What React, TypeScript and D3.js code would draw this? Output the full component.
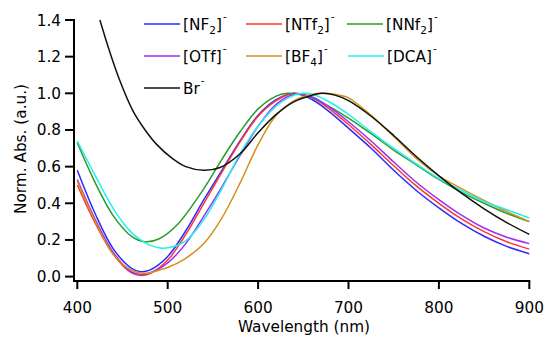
import React from "react";
import * as d3 from "d3";

const xTicks = [400, 500, 600, 700, 800, 900];
const yTicks = [0, 0.2, 0.4, 0.6, 0.8, 1.0, 1.2, 1.4];

const nf2X = [400, 420, 440, 460, 470, 480, 500, 520, 540, 560, 580, 600, 620, 640, 660, 680, 700, 725, 750, 775, 800, 825, 850, 875, 900];
const nf2Y = [0.58, 0.34, 0.15, 0.045, 0.027, 0.035, 0.11, 0.25, 0.42, 0.58, 0.74, 0.88, 0.965, 1.0, 0.965, 0.895, 0.81, 0.70, 0.58, 0.47, 0.375, 0.29, 0.22, 0.165, 0.125];

const ntf2X = [400, 420, 440, 460, 470, 480, 500, 520, 540, 560, 580, 600, 620, 640, 660, 680, 700, 725, 750, 775, 800, 825, 850, 875, 900];
const ntf2Y = [0.50, 0.29, 0.12, 0.02, 0.006, 0.015, 0.09, 0.23, 0.40, 0.57, 0.735, 0.875, 0.96, 1.0, 0.975, 0.91, 0.83, 0.72, 0.605, 0.495, 0.40, 0.315, 0.245, 0.19, 0.15];

const nnf2X = [400, 420, 440, 460, 475, 490, 510, 540, 560, 580, 600, 620, 632, 645, 660, 680, 700, 725, 750, 775, 800, 825, 850, 875, 900];
const nnf2Y = [0.73, 0.51, 0.33, 0.22, 0.19, 0.205, 0.28, 0.48, 0.64, 0.79, 0.915, 0.985, 1.0, 0.995, 0.975, 0.925, 0.865, 0.78, 0.69, 0.61, 0.53, 0.46, 0.40, 0.345, 0.30];

const otfX = [400, 420, 440, 460, 470, 480, 500, 520, 540, 560, 580, 600, 620, 640, 660, 680, 700, 725, 750, 775, 800, 825, 850, 875, 900];
const otfY = [0.53, 0.31, 0.13, 0.025, 0.012, 0.02, 0.075, 0.18, 0.33, 0.49, 0.66, 0.82, 0.94, 0.995, 0.98, 0.92, 0.845, 0.74, 0.625, 0.515, 0.42, 0.335, 0.265, 0.215, 0.18];

const bf4X = [400, 420, 440, 460, 477, 490, 500, 520, 540, 560, 580, 600, 620, 640, 660, 675, 690, 700, 725, 750, 775, 800, 825, 850, 875, 900];
const bf4Y = [0.52, 0.30, 0.12, 0.035, 0.018, 0.035, 0.05, 0.10, 0.18, 0.32, 0.51, 0.72, 0.88, 0.96, 0.995, 1.0, 0.99, 0.975, 0.88, 0.765, 0.645, 0.55, 0.48, 0.415, 0.355, 0.30];

const dcaX = [400, 420, 440, 460, 470, 480, 495, 510, 520, 540, 560, 580, 600, 620, 640, 650, 660, 680, 700, 725, 750, 775, 800, 825, 850, 875, 900];
const dcaY = [0.74, 0.55, 0.37, 0.24, 0.20, 0.172, 0.155, 0.17, 0.195, 0.31, 0.48, 0.67, 0.82, 0.93, 0.99, 1.0, 0.995, 0.95, 0.885, 0.79, 0.70, 0.615, 0.535, 0.47, 0.41, 0.365, 0.32];

const brX = [425, 435, 447, 462, 475, 488, 505, 520, 540, 558, 580, 600, 620, 640, 660, 670, 685, 700, 725, 750, 775, 800, 825, 850, 875, 900];
const brY = [1.40, 1.24, 1.07, 0.90, 0.80, 0.72, 0.645, 0.60, 0.58, 0.595, 0.67, 0.785, 0.885, 0.955, 0.99, 1.0, 0.99, 0.96, 0.875, 0.77, 0.655, 0.55, 0.455, 0.37, 0.295, 0.23];

type Part = { t: string; k?: "sub" | "sup" };
const seriesNames: Part[][] = [
  [{ t: "[NF" }, { t: "2", k: "sub" }, { t: "]" }, { t: "-", k: "sup" }],
  [{ t: "[NTf" }, { t: "2", k: "sub" }, { t: "]" }, { t: "-", k: "sup" }],
  [{ t: "[NNf" }, { t: "2", k: "sub" }, { t: "]" }, { t: "-", k: "sup" }],
  [{ t: "[OTf]" }, { t: "-", k: "sup" }],
  [{ t: "[BF" }, { t: "4", k: "sub" }, { t: "]" }, { t: "-", k: "sup" }],
  [{ t: "[DCA]" }, { t: "-", k: "sup" }],
  [{ t: "Br" }, { t: "-", k: "sup" }],
];
const seriesColors = ["#2b2bff", "#ff3535", "#2a9a2a", "#9b30f0", "#d4901c", "#22f0f0", "#111111"];
const seriesXs = [nf2X, ntf2X, nnf2X, otfX, bf4X, dcaX, brX];
const seriesYs = [nf2Y, ntf2Y, nnf2Y, otfY, bf4Y, dcaY, brY];

const legendPos = [
  [144, 24], [246, 24], [347, 24],
  [144, 56], [246, 56], [348, 56],
  [144, 88],
];

export default function App() {
  const x = d3.scaleLinear().domain([400, 900]).range([77.3, 529.3]);
  const y = d3.scaleLinear().domain([0, 1.4]).range([276.6, 20]);
  const line = d3
    .line<[number, number]>()
    .x((d) => x(d[0]))
    .y((d) => y(d[1]))
    .curve(d3.curveCatmullRom.alpha(0.5));
  const font = "DejaVu Sans, Verdana, sans-serif";
  const fs = 15.3;
  const axisY = 281;
  const axisX = 74;

  return (
    <svg
      width={547}
      height={337}
      style={{ position: "absolute", left: 0, top: 0, background: "#fff" }}
      fontFamily={font}
    >
      <rect width={547} height={337} fill="#fff" />
      {seriesXs.map((xs, i) => (
        <path
          key={i}
          d={line(xs.map((v, j) => [v, seriesYs[i][j]] as [number, number])) || ""}
          fill="none"
          stroke={seriesColors[i]}
          strokeWidth={1.5}
        />
      ))}
      <line x1={axisX} x2={axisX} y1={y(1.4) - 1} y2={axisY + 1} stroke="#000" strokeWidth={2} />
      <line x1={axisX - 1} x2={x(900) + 1} y1={axisY} y2={axisY} stroke="#000" strokeWidth={2} />
      {yTicks.map((t) => (
        <g key={t}>
          <line x1={axisX - 9} x2={axisX} y1={y(t)} y2={y(t)} stroke="#000" strokeWidth={2} />
          <text x={61} y={y(t) + 5.5} textAnchor="end" fontSize={fs} fill="#000">
            {d3.format(".1f")(t)}
          </text>
        </g>
      ))}
      {xTicks.map((t) => (
        <g key={t}>
          <line x1={x(t)} x2={x(t)} y1={axisY} y2={axisY + 8} stroke="#000" strokeWidth={2} />
          <text x={x(t)} y={313} textAnchor="middle" fontSize={fs} fill="#000">
            {t}
          </text>
        </g>
      ))}
      <text x={304} y={332} textAnchor="middle" fontSize={fs} fill="#000">
        Wavelength (nm)
      </text>
      <text
        transform={`translate(26,149) rotate(-90)`}
        textAnchor="middle"
        fontSize={fs}
        fill="#000"
      >
        Norm. Abs. (a.u.)
      </text>
      {seriesNames.map((parts, i) => {
        const [lx, ly] = legendPos[i];
        return (
          <g key={i}>
            <line x1={lx} x2={lx + 36} y1={ly} y2={ly} stroke={seriesColors[i]} strokeWidth={1.5} />
            <text x={lx + 39} y={ly + 5.5} fontSize={fs} fill="#000">
              {parts.map((p, j) => {
                const prev = j > 0 ? parts[j - 1].k : undefined;
                let dy = 0;
                if (p.k === "sub") dy = 4;
                else if (p.k === "sup") dy = prev === "sub" ? -14 : -10;
                else if (prev === "sub") dy = -4;
                else if (prev === "sup") dy = 10;
                return (
                  <tspan key={j} dy={dy} fontSize={p.k ? 10.5 : fs} dx={p.k === "sup" ? 1 : 0}>
                    {p.t}
                  </tspan>
                );
              })}
            </text>
          </g>
        );
      })}
    </svg>
  );
}
